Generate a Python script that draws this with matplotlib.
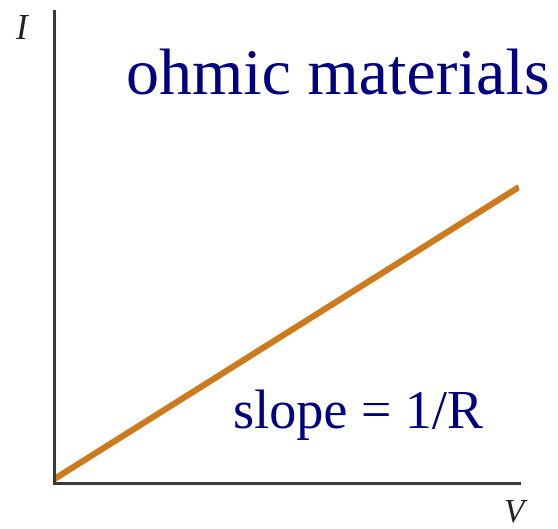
import matplotlib.pyplot as plt

# voltage / current values for the ohmic line (arbitrary units)
voltage = [0.0, 1.0]
current = [0.008, 0.627]

title_text = "ohmic materials"
slope_text = "slope = 1/R"
x_label = "V"
y_label = "I"

line_color = "#CC7A1C"
text_color = "#000080"
axis_color = "#3a3a3a"

fig = plt.figure(figsize=(5.58, 5.29), dpi=100)
ax = fig.add_axes([54 / 558, 46 / 529, 465 / 558, 472 / 529])

ax.plot(voltage, current, color=line_color, lw=4.5, solid_capstyle="butt")
ax.set_xlim(0, 1)
ax.set_ylim(0, 1)

for side in ["top", "right"]:
    ax.spines[side].set_visible(False)
for side in ["left", "bottom"]:
    ax.spines[side].set_color(axis_color)
    ax.spines[side].set_linewidth(2.2)
ax.set_xticks([])
ax.set_yticks([])

serif = ["Liberation Serif", "DejaVu Serif"]
fig.text(126 / 558, 1 - 95 / 529, title_text, fontsize=47.5, color=text_color,
         family=serif, va="baseline", ha="left")
fig.text(233 / 558, 1 - 428 / 529, slope_text, fontsize=39, color=text_color,
         family=serif, va="baseline", ha="left")
fig.text(21 / 558, 1 - 39 / 529, y_label, fontsize=25, color="#222222",
         family=serif, style="italic", va="baseline", ha="center")
fig.text(513 / 558, 1 - 522 / 529, x_label, fontsize=24, color="#222222",
         family=serif, style="italic", va="baseline", ha="center")

fig.savefig("out.png", dpi=100)
